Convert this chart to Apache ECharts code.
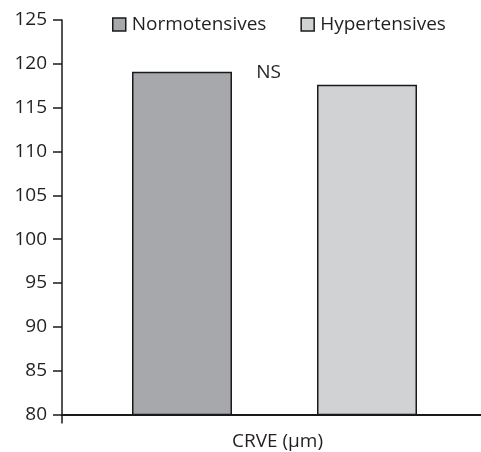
<!DOCTYPE html>
<html>
<head>
<meta charset="utf-8">
<script src="https://cdn.jsdelivr.net/npm/echarts@6/dist/echarts.min.js"></script>
<style>
html,body{margin:0;padding:0;background:#fff;}
#chart{width:481px;height:452px;}
</style>
</head>
<body>
<div id="chart"></div>
<script>
const categories = ['CRVE (µm)'];
const seriesNames = ['Normotensives', 'Hypertensives'];
const normotensives = [119.1];
const hypertensives = [117.6];
const yTicks = [80, 85, 90, 95, 100, 105, 110, 115, 120, 125];
const annotationText = 'NS';

const FONT = '"Open Sans", sans-serif';
const TXT = '#231f20';

const chart = echarts.init(document.getElementById('chart'), null, {renderer: 'canvas'});
chart.setOption({
  animation: false,
  backgroundColor: '#ffffff',
  textStyle: {fontFamily: FONT, color: TXT},
  grid: {left: 62, width: 425, top: 20, bottom: 37.5, containLabel: false, outerBoundsMode: 'none'},
  legend: {
    left: 112, top: 15, padding: 0,
    itemWidth: 13, itemHeight: 13, itemGap: 34,
    icon: 'rect',
    textStyle: {fontFamily: FONT, fontSize: 19, color: TXT, padding: [0, 0, 0, 1]},
    data: seriesNames.map(n => ({name: n, itemStyle: {borderColor: '#1a1a1a', borderWidth: 1.5}}))
  },
  xAxis: {
    type: 'category',
    data: categories,
    boundaryGap: true,
    axisLine: {lineStyle: {color: '#1a1a1a', width: 2}},
    axisTick: {show: true, length: 9, lineStyle: {color: '#1a1a1a', width: 1.5}},
    axisLabel: {fontFamily: FONT, fontSize: 19, color: TXT, margin: 18, padding: [0, 0, 0, 6]}
  },
  yAxis: {
    type: 'value',
    min: yTicks[0], max: yTicks[yTicks.length - 1], interval: 5,
    splitLine: {show: false},
    axisLine: {show: true, lineStyle: {color: '#1a1a1a', width: 1.5}},
    axisTick: {show: true, length: 9, lineStyle: {color: '#1a1a1a', width: 1.5}},
    axisLabel: {fontFamily: FONT, fontSize: 19, color: TXT, margin: 15}
  },
  series: [
    {
      name: seriesNames[0], type: 'bar', data: normotensives,
      barWidth: 100, barGap: '85%',
      itemStyle: {color: '#a7a8ab', borderColor: '#1a1a1a', borderWidth: 1.5}
    },
    {
      name: seriesNames[1], type: 'bar', data: hypertensives,
      barWidth: 100,
      itemStyle: {color: '#d1d2d4', borderColor: '#1a1a1a', borderWidth: 1.5}
    }
  ]
});

const p = chart.convertToPixel({gridIndex: 0}, [categories[0], 119.0]);
chart.setOption({
  graphic: [{
    type: 'text',
    x: p[0] - 6, y: p[1],
    style: {text: annotationText, fontFamily: FONT, fontSize: 19, fill: TXT, align: 'center', verticalAlign: 'middle'}
  }]
});
</script>
</body>
</html>
